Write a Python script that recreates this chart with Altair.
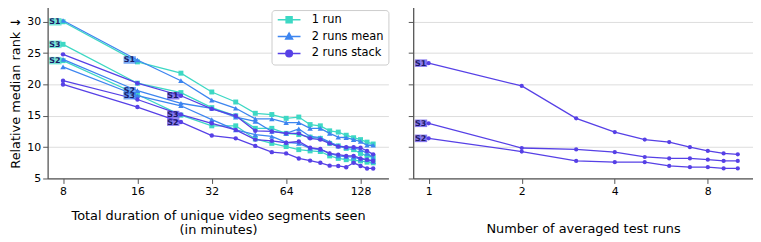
import altair as alt
import pandas as pd

# ---------------- data ----------------
minutes = [8, 16, 24, 32, 40, 48, 56, 64, 72, 80, 88, 96, 104, 112, 120, 128, 136, 144]
runs = ["1 run", "2 runs mean", "2 runs stack"]
colors = ["#3dd8c4", "#3d85f0", "#5640e6"]

one_run_S1 = [30.0, 23.6, 21.8, 18.8, 17.2, 15.4, 15.2, 14.6, 14.8, 13.6, 13.4, 12.6, 12.4, 11.9, 11.5, 11.2, 10.8, 10.5]
one_run_S2 = [23.8, 18.4, 15.1, 13.4, 13.4, 11.3, 10.6, 10.1, 9.6, 9.4, 9.3, 8.6, 8.2, 8.0, 7.9, 7.8, 7.6, 7.5]
one_run_S3 = [26.4, 20.2, 18.7, 16.3, 15.0, 13.0, 13.0, 12.2, 12.0, 11.6, 11.4, 10.6, 10.2, 9.8, 9.6, 9.0, 8.6, 8.4]

mean_S1 = [30.2, 23.9, 20.6, 17.5, 16.2, 14.5, 14.5, 13.9, 13.9, 13.0, 13.0, 12.2, 11.6, 11.5, 11.2, 10.9, 10.3, 10.3]
mean_S2 = [24.0, 19.0, 17.0, 16.2, 14.8, 14.1, 12.5, 12.2, 12.9, 11.7, 11.5, 10.8, 10.2, 10.0, 9.9, 9.6, 9.0, 8.3]
mean_S3 = [22.8, 18.2, 16.6, 14.4, 12.75, 12.0, 11.7, 10.75, 10.6, 9.8, 9.6, 9.0, 8.6, 8.5, 8.4, 8.1, 8.0, 7.7]

stack_S1 = [24.8, 20.2, 18.2, 16.1, 15.0, 12.6, 12.5, 12.2, 12.2, 11.4, 11.2, 10.6, 10.1, 10.0, 10.0, 9.9, 9.4, 8.85]
stack_S2 = [20.0, 16.4, 14.0, 11.85, 11.4, 10.2, 9.2, 9.0, 8.2, 7.85, 7.5, 7.05, 7.0, 6.8, 7.5, 7.0, 6.6, 6.6]
stack_S3 = [20.6, 17.6, 15.2, 13.8, 12.75, 11.2, 11.0, 10.7, 10.9, 9.9, 9.7, 9.0, 8.8, 8.6, 8.6, 8.2, 8.0, 7.8]

n_runs = [1, 2, 3, 4, 5, 6, 7, 8, 9, 10]
avg_S1 = [23.4, 19.76, 14.6, 12.4, 11.2, 10.8, 10.0, 9.4, 9.0, 8.85]
avg_S2 = [11.4, 9.3, 7.8, 7.6, 7.6, 7.0, 6.8, 6.8, 6.6, 6.6]
avg_S3 = [13.8, 9.86, 9.64, 9.2, 8.43, 8.2, 8.2, 8.0, 7.8, 7.8]

# ---------------- tables ----------------
left_series = [
    ("1 run", "S1", one_run_S1), ("1 run", "S3", one_run_S3), ("1 run", "S2", one_run_S2),
    ("2 runs mean", "S1", mean_S1), ("2 runs mean", "S2", mean_S2), ("2 runs mean", "S3", mean_S3),
    ("2 runs stack", "S1", stack_S1), ("2 runs stack", "S3", stack_S3), ("2 runs stack", "S2", stack_S2),
]
rows = []
for run, subj, vals in left_series:
    for xv, yv in zip(minutes, vals):
        rows.append({"run": run, "subject": subj, "key": run + subj, "x": xv, "y": yv})
left_df = pd.DataFrame(rows)

# labels: 1 run at its 1st point, 2 runs mean at 2nd, 2 runs stack at 3rd
lab_rows = []
for run, subj, vals in left_series:
    i = runs.index(run)
    lab_rows.append({"run": run, "subject": subj, "x": minutes[i], "y": vals[i],
                     "top": 1 if (run == "2 runs mean" and subj == "S3") else 0})
left_lab = pd.DataFrame(lab_rows)

right_series = [("S1", avg_S1), ("S3", avg_S3), ("S2", avg_S2)]
rrows = []
for subj, vals in right_series:
    for xv, yv in zip(n_runs, vals):
        rrows.append({"run": "2 runs stack", "subject": subj, "key": subj, "x": xv, "y": yv})
right_df = pd.DataFrame(rrows)
right_lab = pd.DataFrame([{"run": "2 runs stack", "subject": s, "x": n_runs[0], "y": v[0], "top": 0}
                          for s, v in right_series])

# ---------------- encodings ----------------
FONT = "DejaVu Sans"
run_color = dict(zip(runs, colors))

yenc_left = alt.Y("y:Q", scale=alt.Scale(domain=[5, 32.5], nice=False, zero=False),
                  axis=alt.Axis(values=[5, 10, 15, 20, 25, 30], title="Relative median rank ↓",
                                grid=True, titlePadding=4))
yenc_right = alt.Y("y:Q", scale=alt.Scale(domain=[5, 32.5], nice=False, zero=False),
                   axis=alt.Axis(values=[5, 10, 15, 20, 25, 30], title=None, labels=False, grid=True))

xenc_left = alt.X("x:Q", scale=alt.Scale(type="log", base=2, domain=[6.93, 166], nice=False),
                  axis=alt.Axis(values=[8, 16, 32, 64, 128], format="d", grid=False,
                                title=["Total duration of unique video segments seen", "(in minutes)"],
                                titlePadding=13, titleLineHeight=14.5))
xenc_right = alt.X("x:Q", scale=alt.Scale(type="log", base=2, domain=[0.891, 11.2], nice=False),
                   axis=alt.Axis(values=[1, 2, 4, 8], format="d", grid=False,
                                 title="Number of averaged test runs", titlePadding=27))

shapes = {"1 run": ("square", 25), "2 runs mean": ("triangle-up", 30), "2 runs stack": ("circle", 20)}

paths = [
    "M-3.83,0H3.83M-1,-1H1V1H-1Z",
    "M-3.83,0H3.83M0,-1.2L1.15,0.85L-1.15,0.85Z",
    "M-3.83,0H3.83M1.1,0A1.1,1.1,0,1,1,-1.1,0A1.1,1.1,0,1,1,1.1,0Z",
]

leg = alt.Legend(title=None, orient="none", legendX=226, legendY=4, fillColor="white",
                 strokeColor="#cccccc", padding=4, cornerRadius=3, labelFont=FONT,
                 labelFontSize=11.5, labelColor="black", symbolOffset=8, labelOffset=17,
                 rowPadding=4, symbolSize=36, symbolStrokeWidth=1.5)


def series_layers(df, xenc, yenc, run_list, pt_scale=1.0):
    base = alt.Chart(df)
    out = []
    for r in run_list:
        sub = base.transform_filter(alt.datum.run == r)
        shp, sz = shapes[r]
        out.append(sub.mark_line(strokeWidth=1.3, color=run_color[r]).encode(x=xenc, y=yenc, detail="key:N"))
        out.append(sub.mark_point(filled=True, shape=shp, size=sz * pt_scale, opacity=1, color=run_color[r])
                   .encode(x=xenc, y=yenc))
    return out


def labels_layers(df, xenc, yenc, run_list):
    base = alt.Chart(df)
    out = []
    for flag in [0, 1]:
        b = base.transform_filter(alt.datum.top == flag)
        for r in run_list:
            out.append(b.transform_filter(alt.datum.run == r)
                       .mark_rect(xOffset=-14, x2Offset=-1.5, yOffset=-3.8, y2Offset=3.8, opacity=0.7,
                                  color=run_color[r])
                       .encode(x=xenc, x2="x:Q", y=yenc, y2="y:Q"))
        out.append(b.mark_text(align="right", baseline="middle", dx=-2.5, dy=0.5, font=FONT, fontSize=8,
                               fontWeight="bold", color="#1a1a66").encode(x=xenc, y=yenc, text="subject:N"))
    return out


# ---------------- left panel ----------------
left_layers = series_layers(left_df, xenc_left, yenc_left, runs)
left_layers += labels_layers(left_lab, xenc_left, yenc_left, runs)
legend_layer = alt.Chart(left_df).transform_filter("false").mark_point(
    filled=True, size=36, strokeWidth=1.5, opacity=1).encode(
    x=xenc_left, y=yenc_left,
    fill=alt.Fill("run:N", scale=alt.Scale(domain=runs, range=colors), legend=leg),
    stroke=alt.Stroke("run:N", scale=alt.Scale(domain=runs, range=colors), legend=leg),
    shape=alt.Shape("run:N", scale=alt.Scale(domain=runs, range=paths), legend=leg),
)
left_layers.append(legend_layer)
left = alt.layer(*left_layers).properties(width=344, height=174)

# ---------------- right panel ----------------
right_layers = series_layers(right_df, xenc_right, yenc_right, ["2 runs stack"], pt_scale=0.9)
right_layers += labels_layers(right_lab, xenc_right, yenc_right, ["2 runs stack"])
right = alt.layer(*right_layers).properties(width=343, height=174)

chart = alt.hconcat(left, right, spacing=19).properties(
    padding={"left": 2, "top": -3, "right": 0, "bottom": 0}
).configure_view(stroke=None).configure_axis(
    domainColor="#555555", domainWidth=1.3, tickColor="#555555", tickSize=5, tickWidth=1,
    labelFont=FONT, labelFontSize=11, labelColor="black", labelPadding=2,
    titleFont=FONT, titleFontSize=13, titleFontWeight="normal", titleColor="black",
    gridColor="#dddddd", gridWidth=1,
)

chart.save("out.html", embed_options={"renderer": "svg", "actions": False})
